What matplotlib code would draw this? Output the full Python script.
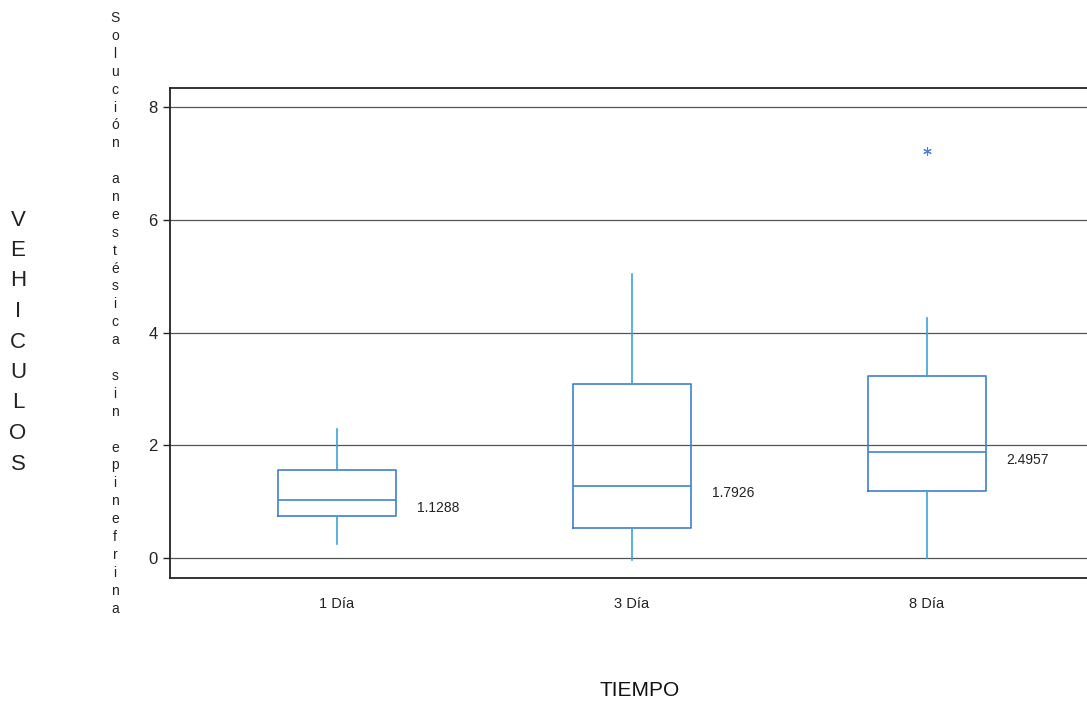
import numpy as np
import matplotlib.pyplot as plt

plt.rcParams['font.family'] = ['Liberation Sans', 'DejaVu Sans']

# data
grupos = ["1 Día", "3 Día", "8 Día"]
bigote_inf = [0.25, -0.03, 0.0]
q1 = [0.75, 0.53, 1.19]
mediana = [1.03, 1.28, 1.88]
q3 = [1.56, 3.09, 3.24]
bigote_sup = [2.30, 5.04, 4.26]
atipicos = [[], [], [7.23]]
medias = ["1.1288", "1.7926", "2.4957"]

ylabel = "Solución anestésica sin epinefrina"
grupo_label = "VEHICULOS"
xlabel = "TIEMPO"

fig = plt.figure(figsize=(10.87, 7.04), dpi=100)
ax = fig.add_axes([170/1087, 1-578/704, 924/1087, 490/704])

stats = []
for i in range(len(grupos)):
    stats.append(dict(whislo=bigote_inf[i], q1=q1[i], med=mediana[i], q3=q3[i],
                      whishi=bigote_sup[i], fliers=atipicos[i], label=grupos[i]))

pos = np.arange(1, len(grupos) + 1)
ax.bxp(stats, positions=pos, widths=0.4, showcaps=False,
       boxprops=dict(color='#3f7fd0', linewidth=1.2),
       medianprops=dict(color='#3f86cc', linewidth=1.2),
       whiskerprops=dict(color='#3aa3d8', linewidth=1.2),
       flierprops=dict(marker=(6, 2, 0), markersize=6, markeredgecolor='#4a7fd6',
                       markeredgewidth=0.8, linestyle='none'))

for i in range(len(grupos)):
    ax.text(pos[i] + 0.27, mediana[i] - 0.13, medias[i], fontsize=10,
            va='center', ha='left', color='#222222')

ax.set_xlim(0.434, 3.566)
ax.set_ylim(-0.35, 8.34)
ax.set_yticks([0, 2, 4, 6, 8])
ax.yaxis.grid(True, color='#555555', linewidth=0.9)
ax.set_axisbelow(True)
ax.tick_params(axis='y', length=5, width=1, labelsize=12, pad=4, colors='#222222')
ax.tick_params(axis='x', length=0, labelsize=10.5, pad=14, colors='#222222')
for s in ['top', 'left', 'bottom']:
    ax.spines[s].set_color('#222222')
    ax.spines[s].set_linewidth(1.3)
ax.spines['right'].set_visible(False)

# stacked vertical y label
y0 = 18
step = 17.9
for k, ch in enumerate(ylabel):
    if ch != ' ':
        fig.text(115/1087, 1 - (y0 + k*step)/704, ch, fontsize=10,
                 ha='center', va='center', color='#222222')
for k, ch in enumerate(grupo_label):
    fig.text(18/1087, 1 - (220 + k*30.5)/704, ch, fontsize=16,
             ha='center', va='center', color='#222222')

fig.text(640/1087, 1 - 690/704, xlabel, fontsize=15, ha='center', va='center',
         color='#111111')

fig.savefig('out.png', dpi=100)
